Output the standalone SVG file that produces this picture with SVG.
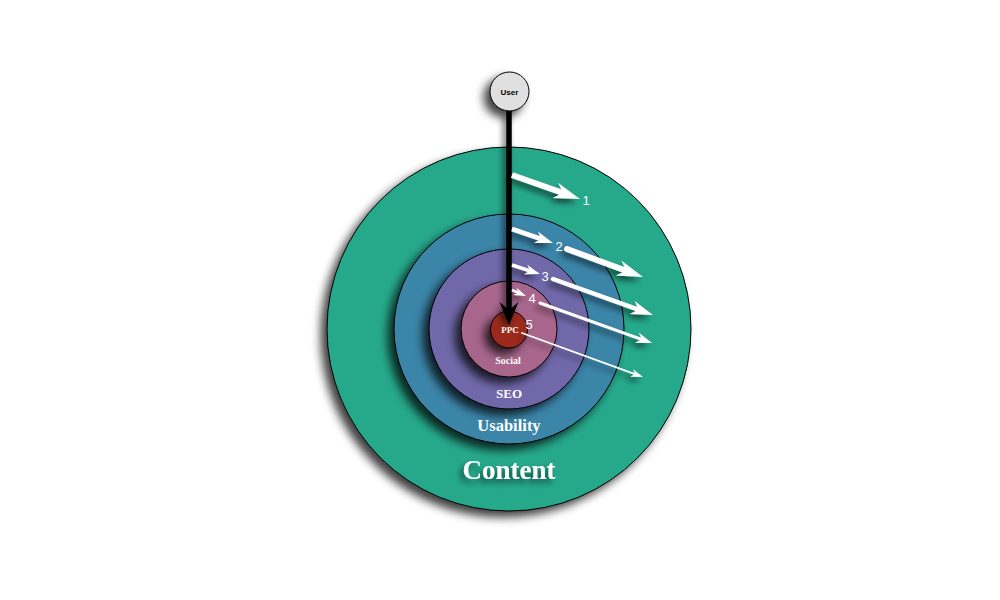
<svg xmlns="http://www.w3.org/2000/svg" width="1000" height="600" viewBox="0 0 1000 600">
<style>
.ring{stroke:#000;stroke-width:1}
.lbl{font-family:"Liberation Serif",serif;font-weight:bold;fill:#fff;text-anchor:middle}
.num{font-family:"Liberation Sans",Arial,sans-serif;font-size:13px;fill:#fff;text-anchor:middle}
.wa{stroke:#fff;fill:none}
</style>
<defs>
<filter id="sh" filterUnits="userSpaceOnUse" x="0" y="0" width="1000" height="600">
<feGaussianBlur in="SourceAlpha" stdDeviation="5"/>
<feOffset dx="-6" dy="6" result="b"/>
<feComponentTransfer><feFuncA type="linear" slope="0.75"/></feComponentTransfer>
<feMerge><feMergeNode/><feMergeNode in="SourceGraphic"/></feMerge>
</filter>
<filter id="sh2" filterUnits="userSpaceOnUse" x="0" y="0" width="1000" height="600">
<feGaussianBlur in="SourceAlpha" stdDeviation="3"/>
<feOffset dx="-3" dy="4"/>
<feComponentTransfer><feFuncA type="linear" slope="0.6"/></feComponentTransfer>
<feMerge><feMergeNode/><feMergeNode in="SourceGraphic"/></feMerge>
</filter>
<marker id="mA" markerUnits="userSpaceOnUse" orient="auto" refX="8" refY="0" overflow="visible"><path d="M0,-8 L26,0 L0,8 L8,0 Z" fill="#fff"/></marker>
<marker id="mB" markerUnits="userSpaceOnUse" orient="auto" refX="5.5" refY="0" overflow="visible"><path d="M0,-6 L18,0 L0,6 L5.5,0 Z" fill="#fff"/></marker>
<marker id="mC" markerUnits="userSpaceOnUse" orient="auto" refX="4.5" refY="0" overflow="visible"><path d="M0,-5 L15,0 L0,5 L4.5,0 Z" fill="#fff"/></marker>
<marker id="mD" markerUnits="userSpaceOnUse" orient="auto" refX="6.5" refY="0" overflow="visible"><path d="M0,-7 L22,0 L0,7 L6.5,0 Z" fill="#fff"/></marker>
<marker id="mE" markerUnits="userSpaceOnUse" orient="auto" refX="3.5" refY="0" overflow="visible"><path d="M0,-4 L12,0 L0,4 L3.5,0 Z" fill="#fff"/></marker>
<marker id="mF" markerUnits="userSpaceOnUse" orient="auto" refX="5" refY="0" overflow="visible"><path d="M0,-5.5 L16,0 L0,5.5 L5,0 Z" fill="#fff"/></marker>
<marker id="mK" markerUnits="userSpaceOnUse" orient="auto" refX="8" refY="0" overflow="visible"><path d="M0,-9.5 L23,0 L0,9.5 L8,0 Z" fill="#000"/></marker>
</defs>
<rect width="1000" height="600" fill="#fff"/>
<g id="content"><circle class="ring" cx="509" cy="329" r="182" fill="#28a98b" filter="url(#sh)"/><text class="lbl" x="509" y="479" font-size="27" filter="url(#sh2)">Content</text></g>
<g id="usability"><circle class="ring" cx="509" cy="329" r="115" fill="#3b85a9" filter="url(#sh)"/><text class="lbl" x="509" y="431" font-size="16.5">Usability</text></g>
<g id="seo"><circle class="ring" cx="509" cy="329" r="80" fill="#6f67a9" filter="url(#sh)"/><text class="lbl" x="509" y="398" font-size="13">SEO</text></g>
<g id="social"><circle class="ring" cx="509" cy="329" r="48" fill="#a8668c" filter="url(#sh)"/><text class="lbl" x="508" y="364" font-size="10">Social</text></g>
<g id="ppc"><circle class="ring" cx="509" cy="329.5" r="18.5" fill="#9b2a1d" filter="url(#sh)"/><text class="lbl" x="510" y="333" font-size="9">PPC</text></g>
<g id="connectors">
<g filter="url(#sh2)">
<line x1="509" y1="110" x2="509" y2="310" stroke="#000" stroke-width="5.5" marker-end="url(#mK)"/>
</g>
<g filter="url(#sh2)">
<line class="wa" x1="512" y1="175" x2="563" y2="193" stroke-width="6" marker-end="url(#mA)"/>
<line class="wa" x1="512" y1="229" x2="541.2" y2="239" stroke-width="4.5" marker-end="url(#mB)"/>
<line class="wa" x1="567" y1="249" x2="626.1" y2="270.8" stroke-width="6" stroke-linecap="round" marker-end="url(#mA)"/>
<line class="wa" x1="512" y1="265" x2="530" y2="270.8" stroke-width="3.5" marker-end="url(#mC)"/>
<line class="wa" x1="553" y1="279" x2="638.4" y2="309.7" stroke-width="4.5" stroke-linecap="round" marker-end="url(#mD)"/>
<line class="wa" x1="512" y1="290" x2="518.2" y2="292.7" stroke-width="2.5" marker-end="url(#mE)"/>
<line class="wa" x1="540" y1="303" x2="641.6" y2="339.3" stroke-width="3" stroke-linecap="round" marker-end="url(#mF)"/>
<line class="wa" x1="522" y1="333" x2="635" y2="374.1" stroke-width="1.8" stroke-linecap="round" marker-end="url(#mE)"/>
</g>
<text class="num" x="586" y="205">1</text>
<text class="num" x="559" y="251">2</text>
<text class="num" x="545" y="281">3</text>
<text class="num" x="532" y="303">4</text>
<text class="num" x="529" y="329">5</text>
</g>
<g id="user"><circle cx="509.5" cy="91.5" r="19.5" fill="#e0e0e0" stroke="#000" stroke-width="1" filter="url(#sh)"/><text x="509.5" y="94.5" font-family="Liberation Sans,Arial,sans-serif" font-weight="bold" font-size="8" text-anchor="middle" fill="#000">User</text></g>
</svg>
